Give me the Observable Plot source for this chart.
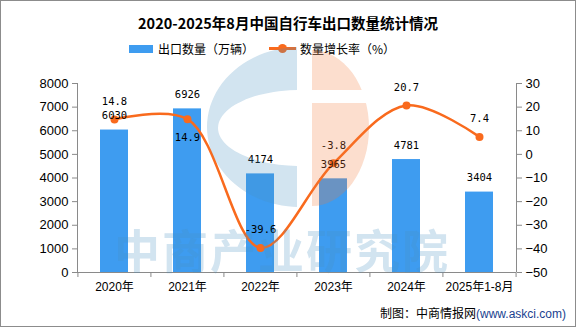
<!DOCTYPE html>
<html>
<head>
<meta charset="utf-8">
<script src="https://cdn.jsdelivr.net/npm/d3@7"></script>
<script src="https://cdn.jsdelivr.net/npm/@observablehq/plot@0.6"></script>
<style>
  html, body { margin: 0; padding: 0; background: #fff; }
  #wrap { position: relative; width: 576px; height: 327px; overflow: hidden; font-family: "Noto Sans CJK SC", "Noto Sans", sans-serif; }
  #title { height: 38px; box-sizing: border-box; padding-top: 13px; line-height: 20px; text-align: center; font-size: 14.5px; font-weight: bold; color: #000; }
  #legend { height: 18px; box-sizing: border-box; padding-top: 3px; line-height: 16px; font-size: 12px; color: #000; display: flex; align-items: center; padding-left: 129px; }
  #legend .sw-bar { width: 24px; height: 8px; background: #3e9cf0; margin-right: 5px; }
  #legend .sw-line { position: relative; width: 27px; height: 3px; background: #f96a1d; margin-left: 15px; margin-right: 4px; }
  #legend .sw-line::after { content: ""; position: absolute; left: 9px; top: -3.5px; width: 9px; height: 9px; border-radius: 50%; background: #f96a1d; }
  #chart svg { display: block; }
  #caption { height: 26px; box-sizing: border-box; padding-top: 4px; line-height: 16px; text-align: right; padding-right: 10px; font-size: 12px; color: #000; }
  #caption .url { font-family: "Liberation Sans", Arial, sans-serif; color: #1a3f8f; }
  #overlay { position: absolute; left: 0; top: 0; pointer-events: none; }
  #border { position: absolute; inset: 0; border: 1px solid #8c8c8c; pointer-events: none; }
</style>
</head>
<body>
<div id="wrap">
  <div id="title">2020-2025年8月中国自行车出口数量统计情况</div>
  <div id="legend"><span class="sw-bar"></span><span>出口数量（万辆）</span><span class="sw-line"></span><span>数量增长率（%）</span></div>
  <div id="chart"></div>
  <div id="caption">制图：中商情报网<span class="url">(www.askci.com)</span></div>
  <svg id="overlay" width="576" height="327" viewBox="0 0 576 327">
    <defs>
      <clipPath id="clipL"><rect x="0" y="0" width="297" height="327"/></clipPath>
      <clipPath id="clipR"><path d="M312,0 H576 V90 H312 Z M312,103 H576 V327 H312 Z"/></clipPath>
    </defs>
    <g opacity="0.25">
      <path clip-path="url(#clipL)" fill="#4a90c0" fill-rule="evenodd"
        d="M300,47 a93,80 0 1 0 0.01,0 Z M300,90 a82,38 0 1 0 0.01,0 Z"/>
      <ellipse clip-path="url(#clipR)" cx="312" cy="128" rx="57" ry="78" fill="#f07a3a"/>
      <text x="282" y="268" text-anchor="middle" font-size="46" font-weight="bold"
        font-family="Noto Sans CJK SC" fill="#4a90c0" letter-spacing="2">中商产业研究院</text>
    </g>
  </svg>
  <div id="border"></div>
</div>
<script>
const categories = ["2020年", "2021年", "2022年", "2023年", "2024年", "2025年1-8月"];
const exportVolume = [6030, 6926, 4174, 3965, 4781, 3404];   // 万辆
const growthRate = [14.8, 14.9, -39.6, -3.8, 20.7, 7.4];     // %
const leftTicks = [0, 1000, 2000, 3000, 4000, 5000, 6000, 7000, 8000];
const rightTicks = [-50, -40, -30, -20, -10, 0, 10, 20, 30];

const leftDomain = [0, 8000];
const rightDomain = [-50, 30];
const toLeft = v => (v - rightDomain[0]) / (rightDomain[1] - rightDomain[0]) * (leftDomain[1] - leftDomain[0]) + leftDomain[0];
const fromLeft = v => (v - leftDomain[0]) / (leftDomain[1] - leftDomain[0]) * (rightDomain[1] - rightDomain[0]) + rightDomain[0];

const rows = categories.map((c, i) => ({
  cat: c, vol: exportVolume[i], g: growthRate[i], gy: toLeft(growthRate[i])
}));

const W = 576, H = 245, mL = 77, mR = 60, mT = 27, mB = 29;
const step = (W - mL - mR) / categories.length;
const axisColor = "#8a8a8a";
const orange = "#f96a1d";
const minus = v => (v < 0 ? "\u2212" + Math.abs(v) : String(v));
const labelBelow = d => d.cat === "2021年";

const plot = Plot.plot({
  width: W, height: H,
  marginLeft: mL, marginRight: mR, marginTop: mT, marginBottom: mB,
  style: { background: "transparent", color: "#000", overflow: "visible" },
  x: { domain: categories, paddingInner: 0.61, paddingOuter: 0.305, axis: null, label: null },
  y: { domain: leftDomain, axis: null, label: null },
  marks: [
    Plot.barY(rows, { x: "cat", y: "vol", fill: "#3e9cf0" }),
    Plot.ruleY([0], { stroke: axisColor }),
    Plot.axisY(leftTicks, {
      anchor: "left", tickSize: 5, tickPadding: 4, stroke: axisColor, fill: "#000", label: null,
      fontSize: 13, fontFamily: "Liberation Sans, Arial, sans-serif", tickFormat: d => String(d)
    }),
    Plot.axisY(rightTicks.map(toLeft), {
      anchor: "right", tickSize: 5, tickPadding: 4, stroke: axisColor, fill: "#000", label: null,
      fontSize: 13, fontFamily: "Liberation Sans, Arial, sans-serif", tickFormat: d => minus(Math.round(fromLeft(d)))
    }),
    Plot.axisX(categories, {
      anchor: "bottom", tickSize: 0, tickPadding: 10, fill: "#000", label: null,
      fontSize: 12, fontFamily: "Liberation Sans, Noto Sans CJK SC, sans-serif"
    }),
    Plot.axisX(categories, { anchor: "bottom", tickSize: 5, text: null, stroke: axisColor, dx: -step / 2, label: null }),
    Plot.axisX([categories[categories.length - 1]], { anchor: "bottom", tickSize: 5, text: null, stroke: axisColor, dx: step / 2, label: null }),
    Plot.line(rows, { x: "cat", y: "gy", stroke: orange, strokeWidth: 2.5, curve: "catmull-rom" }),
    Plot.dot(rows, { x: "cat", y: "gy", r: 4, fill: orange }),
    Plot.text(rows, {
      x: "cat", y: "vol", text: d => String(d.vol), dy: -14,
      fontSize: 10.5, fontFamily: "DejaVu Sans Mono, monospace", fill: "#000"
    }),
    Plot.text(rows.filter(d => !labelBelow(d)), {
      x: "cat", y: "gy", text: d => d.g.toFixed(1), dy: -18,
      fontSize: 10.5, fontFamily: "DejaVu Sans Mono, monospace", fill: "#000"
    }),
    Plot.text(rows.filter(labelBelow), {
      x: "cat", y: "gy", text: d => d.g.toFixed(1), dy: 18,
      fontSize: 10.5, fontFamily: "DejaVu Sans Mono, monospace", fill: "#000"
    })
  ]
});

// axis lines at left and right edges of the plot frame
const svg = d3.select(plot);
const yS = plot.scale("y");
const [y0, y1] = [yS.apply(leftDomain[0]), yS.apply(leftDomain[1])];
svg.insert("g", ":first-child").attr("stroke", axisColor)
  .call(g => g.append("line").attr("x1", mL + 0.5).attr("x2", mL + 0.5).attr("y1", y0).attr("y2", y1))
  .call(g => g.append("line").attr("x1", W - mR + 0.5).attr("x2", W - mR + 0.5).attr("y1", y0).attr("y2", y1));

document.getElementById("chart").appendChild(plot);
</script>
</body>
</html>
